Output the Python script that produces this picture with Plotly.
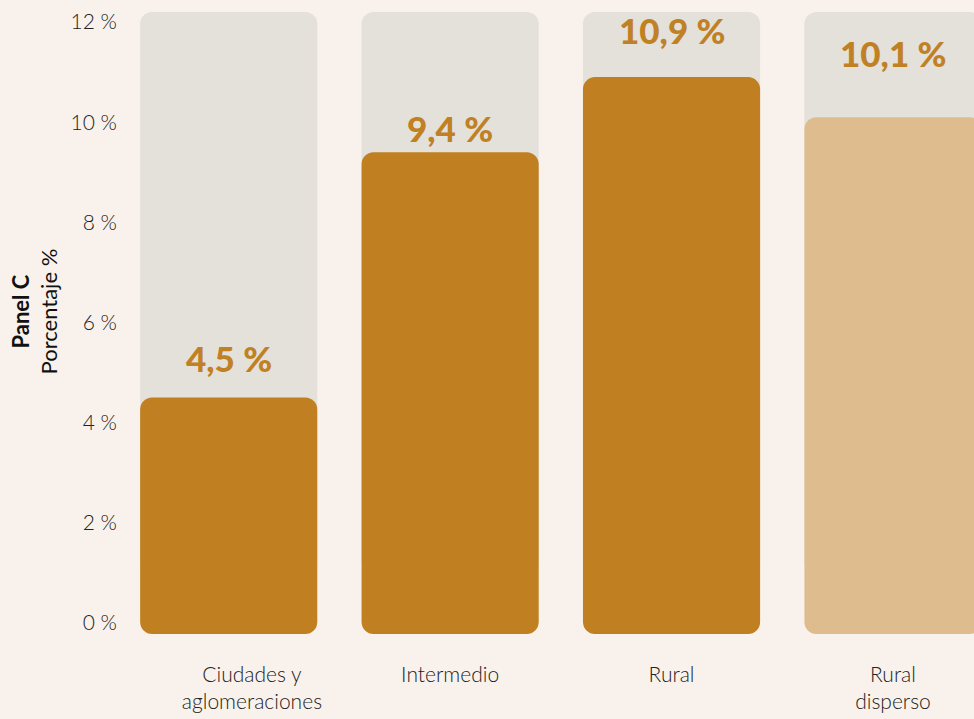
import plotly.graph_objects as go

categories = ["Ciudades y<br>aglomeraciones", "Intermedio", "Rural", "Rural<br>disperso"]
values = [4.5, 9.4, 10.9, 10.1]
value_labels = ["4,5 %", "9,4 %", "10,9 %", "10,1 %"]
bar_colors = ["#c07f21", "#c07f21", "#c07f21", "#dfbc8e"]
tick_vals = [0, 2, 4, 6, 8, 10, 12]
tick_text = ["0 %", "2 %", "4 %", "6 %", "8 %", "10 %", "12 %"]
background_max = 12.2
bar_base = -0.22
label_shift = [40, 24, 47, 64]
category_label_offset = [0.105, 0, 0, 0]

x = list(range(len(categories)))
n = len(x)
fig = go.Figure()

# light grey background bars (rounded)
fig.add_trace(go.Bar(x=x, y=[background_max - 1.0] * n, base=[1.0] * n,
                     marker=dict(color="#e4e0da", cornerradius=12, line=dict(width=0)),
                     width=0.8, hoverinfo="skip", showlegend=False))
# value bars (rounded both ends)
fig.add_trace(go.Bar(x=x, y=[v - bar_base for v in values], base=[bar_base] * n,
                     marker=dict(color=bar_colors, cornerradius=12, line=dict(width=0)),
                     width=0.8, showlegend=False))

for xi, v, lab, sh in zip(x, values, value_labels, label_shift):
    fig.add_annotation(x=xi, y=v, text=lab, showarrow=False,
                       yshift=sh, xref="x", yref="y",
                       font=dict(family="Lato", size=35, color="#c08024", weight=900))

fig.add_annotation(x=-0.0975, y=0.524, xref="paper", yref="paper",
                   text="<b>Panel C</b><br>Porcentaje %", textangle=-90,
                   showarrow=False, xanchor="center", yanchor="middle",
                   font=dict(family="Lato", size=22, color="#111111", weight=400))

fig.update_layout(
    width=974, height=719,
    barmode="overlay",
    paper_bgcolor="#f9f2ec", plot_bgcolor="#f9f2ec",
    margin=dict(l=118, r=0, t=2, b=66),
    font=dict(family="Lato", size=21, color="#222222", weight=300),
    xaxis=dict(range=[-0.5, 3.366],
               tickvals=[xi + o for xi, o in zip(x, category_label_offset)],
               ticktext=categories,
               showgrid=False, zeroline=False, showline=False, ticks="",
               ticklabelstandoff=7, fixedrange=True),
    yaxis=dict(range=[-0.6, 12.4], tickvals=tick_vals, ticktext=tick_text,
               showgrid=False, zeroline=False, showline=False, ticks="",
               fixedrange=True),
)

fig.write_html("out.html", config={"displayModeBar": False},
               post_script="document.body.style.margin='0';document.body.style.background='#f9f2ec';")
